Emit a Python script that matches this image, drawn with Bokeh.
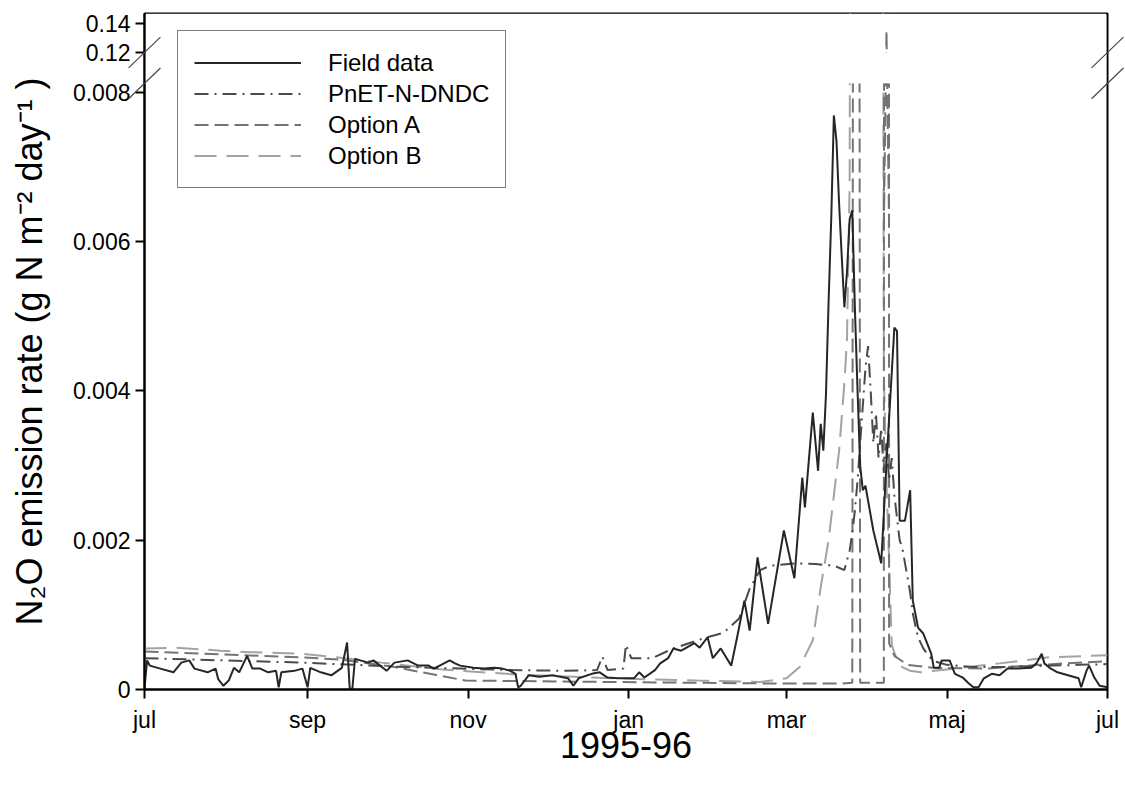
from bokeh.plotting import figure
from bokeh.models import (Range1d, FixedTicker, Legend, LegendItem,
                          BoxAnnotation, Label, ColumnDataSource)
from bokeh.embed import file_html
from bokeh.resources import INLINE

# ---------------- data (x = days since 1 Jul 1995) ----------------
field_day = [0, 1, 2, 6, 11, 14, 17, 19, 24, 27,
             28, 30, 32, 34, 36, 39, 41, 44, 47, 50,
             51, 52, 57, 60, 62, 63, 67, 71, 75, 77,
             78, 79, 80, 85, 87, 92, 95, 100, 104, 108,
             110, 116, 118, 120, 125, 129, 133, 136, 139, 141,
             142, 143, 146, 150, 155, 161, 163, 165, 170, 173,
             176, 180, 184, 186, 188, 190, 194, 196, 199, 201,
             204, 206, 209, 211, 214, 216, 219, 223, 225, 228,
             230, 233, 237, 243, 247, 250, 251, 254, 256, 257,
             258, 259, 260, 261, 262, 263, 264, 265, 266, 267,
             268, 269, 270, 271, 272, 273, 274, 277, 280, 282,
             285, 286, 287, 289, 291, 292, 294, 296, 299, 300,
             302, 303, 306, 308, 311, 313, 315, 317, 319, 322,
             325, 328, 332, 337, 339, 341, 342, 344, 347, 351,
             355, 356, 358, 359, 361, 363, 366]
field_val = [0.00002, 0.00039, 0.00032, 0.00028, 0.00023, 0.00036, 0.00039, 0.00028, 0.00023, 0.00028,
             0.00014, 0.00005, 0.00012, 0.00029, 0.00023, 0.00045, 0.00028, 0.00028, 0.00023, 0.00025,
             0.00003, 0.00023, 0.00025, 0.00028, 0.00003, 0.00029, 0.00023, 0.00019, 0.00029, 0.00063,
             0.00001, 0.00001, 0.00041, 0.00036, 0.00039, 0.00025, 0.00036, 0.00039, 0.00032, 0.00032,
             0.00028, 0.00039, 0.00035, 0.00032, 0.00029, 0.00028, 0.00029, 0.00028, 0.00025, 0.00021,
             0.00003, 0.00005, 0.00019, 0.00017, 0.00019, 0.00015, 0.00005, 0.00015, 0.00021, 0.00023,
             0.00016, 0.00015, 0.00015, 0.00015, 0.00023, 0.00016, 0.00026, 0.00035, 0.00042, 0.00055,
             0.00052, 0.00056, 0.00062, 0.00056, 0.0007, 0.00042, 0.00055, 0.00032, 0.00066, 0.00119,
             0.00079, 0.00177, 0.00088, 0.00213, 0.00149, 0.00284, 0.00244, 0.00371, 0.00293, 0.00356,
             0.0032, 0.00395, 0.0052, 0.0063, 0.00769, 0.00735, 0.0065, 0.0058, 0.00512, 0.0056,
             0.0063, 0.00642, 0.0051, 0.004, 0.003, 0.00267, 0.00273, 0.00213, 0.00169, 0.00303,
             0.00485, 0.0048, 0.00226, 0.00226, 0.00267, 0.00119, 0.00083, 0.00075, 0.00048, 0.00029,
             0.00029, 0.00039, 0.00039, 0.00021, 0.00016, 0.00009, 0.00003, 0.00003, 0.00015, 0.00021,
             0.00019, 0.00028, 0.00028, 0.00029, 0.00035, 0.00048, 0.00035, 0.00029, 0.00023, 0.00019,
             0.00015, 0.00003, 0.00025, 0.00032, 0.00016, 0.00005, 0.00003]

pnet_day = [0, 20, 40, 60, 80, 100, 120, 140, 160, 172,
            174, 176, 182, 183, 185, 193, 201, 212, 220, 226,
            230, 234, 238, 248, 255, 262, 266, 268, 269, 270,
            271, 272, 273, 274, 275, 276, 277, 278, 279, 280,
            281, 282, 283, 284, 285, 286, 287, 288, 289, 290,
            291, 292, 293, 294, 296, 298, 300, 305, 315, 325,
            335, 345, 355, 366]
pnet_val = [0.00042, 0.0004, 0.00038, 0.00036, 0.00033, 0.0003, 0.00028, 0.00026, 0.00025, 0.00026,
            0.00044, 0.00026, 0.00028, 0.0006, 0.00042, 0.00042, 0.00055, 0.00068, 0.00076, 0.00095,
            0.00135, 0.0016, 0.00166, 0.00169, 0.00168, 0.00166, 0.0016, 0.00186, 0.0021, 0.0024,
            0.0028, 0.0033, 0.0038, 0.0043, 0.0046, 0.004, 0.0033, 0.0037, 0.0031, 0.0035,
            0.0029, 0.0033, 0.0028, 0.0031, 0.0026, 0.0023, 0.002, 0.0019, 0.0017, 0.0015,
            0.0013, 0.00102, 0.00085, 0.0007, 0.00055, 0.00045, 0.00038, 0.00033, 0.0003, 0.0003,
            0.00031, 0.00032, 0.00033, 0.00034]

optA_day = [0, 15, 30, 45, 60, 75, 95, 110, 122, 150,
            180, 210, 240, 265, 269, 270, 271, 272, 281, 282,
            283, 285, 290, 300, 320, 340, 366]
optA_val = [0.00051, 0.00049, 0.00047, 0.00045, 0.00043, 0.0004, 0.0003, 0.0002, 0.00012, 0.00011,
            0.0001, 0.00009, 0.00008, 0.00008, 0.00009, 0.035, 0.035, 0.00009, 0.00009, 0.135,
            0.00062, 0.00045, 0.00033, 0.00029, 0.00028, 0.00033, 0.00038]

optB_day = [0, 12, 29, 40, 59, 71, 90, 112, 142, 178,
            210, 234, 244, 249, 254, 257, 260, 262, 264, 266,
            267, 268, 269, 280, 281, 282, 283, 284, 286, 288,
            291, 295, 308, 325, 343, 366]
optB_val = [0.00055, 0.00056, 0.00052, 0.0005, 0.00048, 0.00044, 0.00036, 0.00027, 0.0002, 0.00015,
            0.00012, 0.0001, 0.00015, 0.0003, 0.00066, 0.00137, 0.002, 0.0026, 0.0032, 0.0041,
            0.0047, 0.0068, 0.025, 0.025, 0.0042, 0.0028, 0.0017, 0.0006, 0.00039, 0.0003,
            0.00025, 0.00023, 0.00028, 0.00035, 0.00043, 0.00046]

x_tick_days = [0, 62, 123, 184, 244, 305, 366]
x_tick_labels = ["jul", "sep", "nov", "jan", "mar", "maj", "jul"]
low_ticks = [0, 0.002, 0.004, 0.006, 0.008]
low_tick_labels = ["0", "0.002", "0.004", "0.006", "0.008"]
up_ticks = [0.12, 0.14]
up_tick_labels = ["0.12", "0.14"]

series_names = ["Field data", "PnET-N-DNDC", "Option A", "Option B"]

# ---------------- broken-axis geometry ----------------
FONT = "Liberation Sans"
LOW_RANGE = (0.0, 0.009056)      # lower segment scale over the full frame
UP_RANGE = (-0.31931, 0.146897)  # upper segment scale over the full frame
LOW_TOP = 0.00812                # top of lower segment
UP_BOTTOM = 0.12                 # bottom of upper segment


def up_to_low(u):
    return LOW_RANGE[0] + (u - UP_RANGE[0]) / (UP_RANGE[1] - UP_RANGE[0]) * (LOW_RANGE[1] - LOW_RANGE[0])


p = figure(width=1125, height=789, output_backend="svg", toolbar_location=None,
           x_range=Range1d(x_tick_days[0], x_tick_days[-1]), y_range=Range1d(*LOW_RANGE),
           min_border_left=144, min_border_right=18, min_border_top=13, min_border_bottom=100,
           background_fill_color="white", border_fill_color="white")
p.extra_y_ranges = {"upper": Range1d(*UP_RANGE)}
p.xgrid.visible = False
p.ygrid.visible = False
p.outline_line_color = "black"
p.outline_line_width = 2

styles = {
    "Option B": ("#a3a3a3", "22 10"),
    "Option A": ("#747474", "14 6"),
    "PnET-N-DNDC": ("#4a4a4a", "14 6 2 6"),
    "Field data": ("#262626", "solid"),
}
data = {
    "Option B": (optB_day, optB_val),
    "Option A": (optA_day, optA_val),
    "PnET-N-DNDC": (pnet_day, pnet_val),
    "Field data": (field_day, field_val),
}
rend = {}
for name in ["Option B", "Option A", "PnET-N-DNDC", "Field data"]:
    d, v = data[name]
    c, dash = styles[name]
    rend[name] = p.line(x=d, y=v, line_color=c, line_width=2, line_dash=dash, level="underlay")

# hide lower-segment lines above the lower segment top
mask_top = BoxAnnotation(bottom=LOW_TOP, left=0.5, right=365.5,
                         fill_color="white", fill_alpha=1.0, line_color=None, level="glyph")
p.add_layout(mask_top)

# upper segment: Option A peak on the upper scale
i_pk = optA_val.index(max(optA_val))
src_up = ColumnDataSource(dict(x=optA_day[i_pk - 1:i_pk + 2], y=optA_val[i_pk - 1:i_pk + 2]))
p.line("x", "y", source=src_up, y_range_name="upper", line_color=styles["Option A"][0],
       line_width=2, line_dash=styles["Option A"][1], level="guide")

# gap between the two segments
mask_gap = BoxAnnotation(bottom=LOW_TOP, top=up_to_low(UP_BOTTOM), left=0.5, right=365.5,
                         fill_color="white", fill_alpha=1.0, line_color=None, level="annotation")
p.add_layout(mask_gap)

# break marks: thin slanted strokes centred on the segment ends
# (placed in the top side panel so that they are not clipped to the frame)
for xc in (x_tick_days[0], x_tick_days[-1]):
    for yc, rng in ((LOW_TOP, "default"), (UP_BOTTOM, "upper")):
        p.add_layout(Label(x=xc, y=yc, y_range_name=rng, text=" ", text_font_size="1px",
                           anchor="center", angle=44, angle_units="deg",
                           padding=(22, 0), border_line_color=None,
                           background_fill_color="#444444", background_fill_alpha=1.0,
                           level="overlay"),
                     "above")

# axes
yt = low_ticks + [up_to_low(t) for t in up_ticks]
p.yaxis.ticker = FixedTicker(ticks=yt)
p.yaxis.major_label_overrides = {t: l for t, l in zip(yt, low_tick_labels + up_tick_labels)}
p.xaxis.ticker = FixedTicker(ticks=x_tick_days)
p.xaxis.major_label_overrides = {t: l for t, l in zip(x_tick_days, x_tick_labels)}
p.xaxis.axis_label = "1995-96"
p.yaxis.axis_label = "N\u2082O emission rate (g N m\u207b\u00b2 day\u207b\u00b9 )"
for ax in (p.xaxis[0], p.yaxis[0]):
    ax.axis_line_width = 2
    ax.major_tick_line_width = 2
    ax.major_tick_out = 9
    ax.major_tick_in = 0
    ax.minor_tick_line_color = None
    ax.major_label_text_font = FONT
    ax.major_label_text_font_size = "23px"
    ax.major_label_text_color = "black"
    ax.axis_label_text_font = FONT
    ax.axis_label_text_font_size = "36px"
    ax.axis_label_text_font_style = "normal"
    ax.axis_label_text_color = "black"
p.xaxis.major_label_standoff = 8
p.xaxis.axis_label_standoff = -4
p.yaxis.major_label_standoff = 5
p.yaxis.axis_label_standoff = 20

legend = Legend(items=[LegendItem(label=n, renderers=[rend[n]]) for n in series_names],
                location=(33, 501), level="overlay",
                label_text_font=FONT, label_text_font_size="24px", label_text_color="black",
                glyph_width=107, glyph_height=31, label_height=31, label_standoff=27,
                padding=16, spacing=0, margin=0,
                border_line_color="black", border_line_width=1,
                background_fill_color="white", background_fill_alpha=1.0)
p.add_layout(legend)

open("out.html", "w").write(file_html(p, INLINE))
